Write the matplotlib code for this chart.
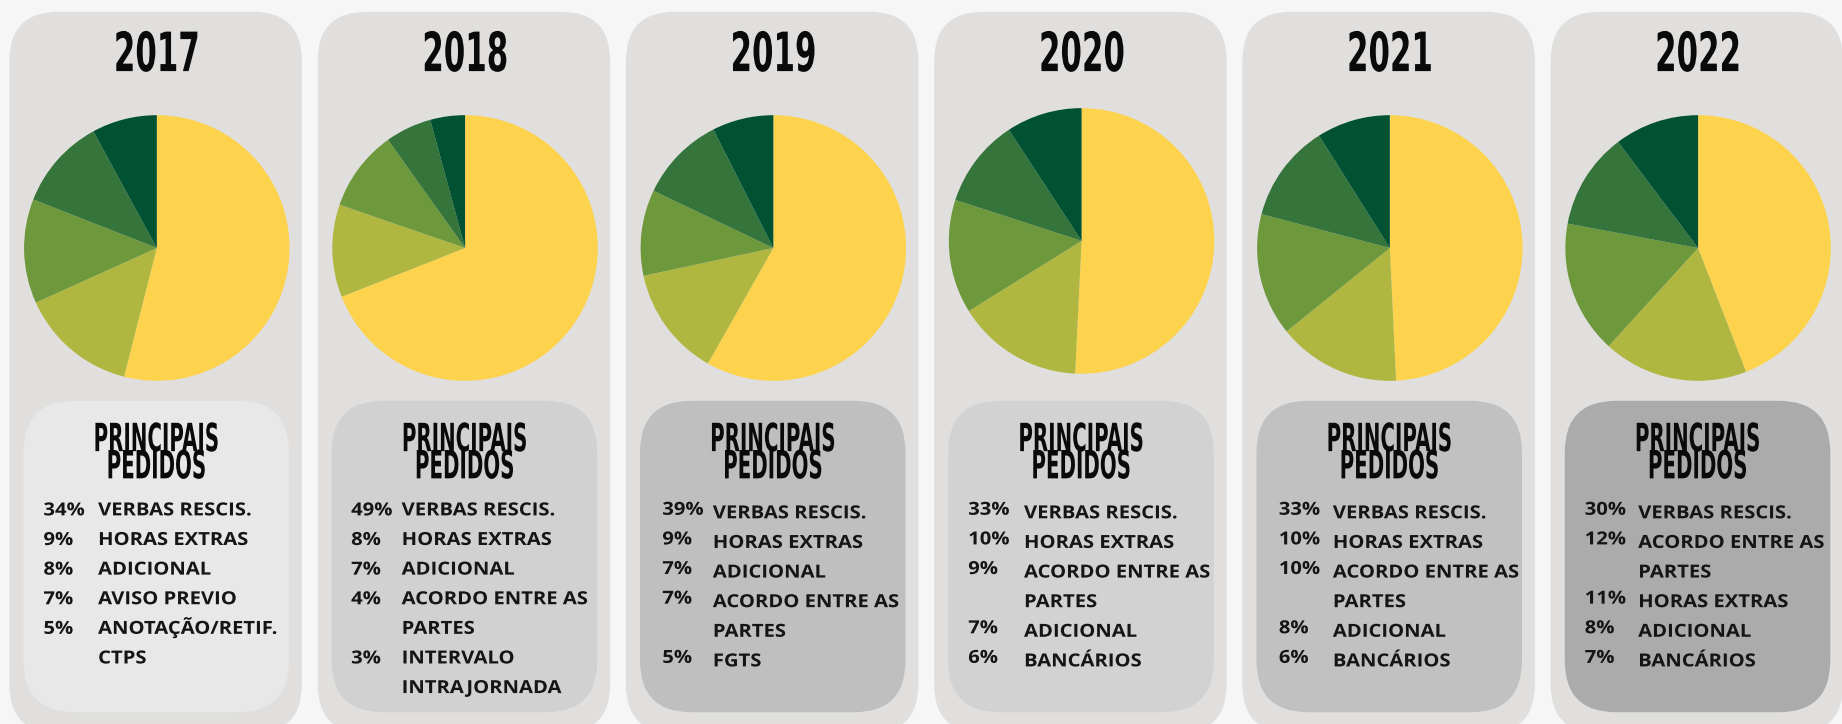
import matplotlib
matplotlib.use("Agg")
import matplotlib.pyplot as plt
from matplotlib.patches import FancyBboxPatch
from matplotlib.patheffects import AbstractPathEffect
from matplotlib.transforms import Affine2D

# dados (principais pedidos por ano)
years = ["2017", "2018", "2019", "2020", "2021", "2022"]

pcts = [
    [34, 9, 8, 7, 5],
    [49, 8, 7, 4, 3],
    [39, 9, 7, 7, 5],
    [33, 10, 9, 7, 6],
    [33, 10, 10, 8, 6],
    [30, 12, 11, 8, 7],
]

labels = [
    ["VERBAS RESCIS.", "HORAS EXTRAS", "ADICIONAL", "AVISO PREVIO", "ANOTAÇÃO/RETIF.\nCTPS"],
    ["VERBAS RESCIS.", "HORAS EXTRAS", "ADICIONAL", "ACORDO ENTRE AS\nPARTES", "INTERVALO\nINTRAJORNADA"],
    ["VERBAS RESCIS.", "HORAS EXTRAS", "ADICIONAL", "ACORDO ENTRE AS\nPARTES", "FGTS"],
    ["VERBAS RESCIS.", "HORAS EXTRAS", "ACORDO ENTRE AS\nPARTES", "ADICIONAL", "BANCÁRIOS"],
    ["VERBAS RESCIS.", "HORAS EXTRAS", "ACORDO ENTRE AS\nPARTES", "ADICIONAL", "BANCÁRIOS"],
    ["VERBAS RESCIS.", "ACORDO ENTRE AS\nPARTES", "HORAS EXTRAS", "ADICIONAL", "BANCÁRIOS"],
]

pie_colors = ["#FDD34E", "#B0B740", "#6E983C", "#35743A", "#005232"]
box_colors = ["#E8E8E8", "#D1D1D1", "#BFBFBF", "#D2D2D2", "#C1C1C1", "#ABABAB"]
panel_color = "#E0DFDD"
bg_color = "#F6F6F6"
txt_color = "#151515"

# layout (pixels da imagem 1568x616, y de cima para baixo)
W, H = 1568, 616
pitch = 262.4
pct_dx = [29, 28.5, 31, 29, 31, 29]
lab_dx = [75.5, 71.5, 74, 76.5, 77, 74.5]
first_base = [438.5, 438.5, 441, 441, 441, 441]
pct_shift = [0, 0, -3, -3, -3, -3]
step = 25.2


def Y(y):
    return H - y


class Squeeze(AbstractPathEffect):
    # muda a largura do texto (efeito de fonte condensada / larga)
    def __init__(self, sx, keep_left=False):
        super().__init__()
        self.sx = sx
        self.keep_left = keep_left

    def draw_path(self, renderer, gc, tpath, affine, rgbFace=None):
        if self.keep_left:
            cx = 0
        else:
            ext = tpath.get_extents()
            cx = (ext.x0 + ext.x1) / 2
        t = Affine2D().translate(-cx, 0).scale(self.sx, 1).translate(cx, 0) + affine
        renderer.draw_path(gc, tpath, t, rgbFace)


body_font = ["Open Sans", "DejaVu Sans"]
wide = [Squeeze(1.12, keep_left=True)]

fig = plt.figure(figsize=(18.42, 7.24), dpi=100, facecolor=bg_color)
ax = fig.add_axes([0, 0, 1, 1])
ax.set_facecolor(bg_color)

for i, year in enumerate(years):
    left = 8 + pitch * i

    panel = FancyBboxPatch((left, Y(624)), 249, 614,
                           boxstyle="round,pad=0,rounding_size=42",
                           fc=panel_color, ec="none", zorder=1)
    ax.add_patch(panel)

    box = FancyBboxPatch((left + 12, Y(606)), 226, 265,
                         boxstyle="round,pad=0,rounding_size=44",
                         fc=box_colors[i], ec="none", zorder=2)
    ax.add_patch(box)

    cx = left + 125.5
    cy = 205 if year == "2020" else 211
    ax.pie(pcts[i], colors=pie_colors, startangle=90, counterclock=False,
           center=(cx, Y(cy)), radius=113,
           wedgeprops=dict(linewidth=0, zorder=3))

    ax.text(cx, Y(60.5), year, ha="center", va="baseline", fontsize=39,
            fontweight="bold", family="DejaVu Sans", color="#0a0a0a",
            path_effects=[Squeeze(0.57)], zorder=4)

    bx = left + 12 + 113
    ax.text(bx, Y(407), "PRINCIPAIS\nPEDIDOS", ha="center", va="baseline",
            multialignment="center", linespacing=0.64, fontsize=28,
            fontweight="bold", family="DejaVu Sans", color="#0a0a0a",
            path_effects=[Squeeze(0.51)], zorder=4)

    line = 0
    for p, lab in zip(pcts[i], labels[i]):
        yb = first_base[i] + step * line
        ax.text(left + pct_dx[i], Y(yb + pct_shift[i]), f"{p}%", ha="left",
                va="baseline", fontsize=13, fontweight="bold",
                family=body_font, color=txt_color, path_effects=wide,
                zorder=4)
        for part in lab.split("\n"):
            yb = first_base[i] + step * line
            ax.text(left + lab_dx[i], Y(yb), part, ha="left", va="baseline",
                    fontsize=13, fontweight="bold", family=body_font,
                    color=txt_color, path_effects=wide, zorder=4)
            line += 1

ax.set_xlim(0, W)
ax.set_ylim(0, H)
ax.set_aspect("auto")
ax.axis("off")

fig.savefig("out.png", dpi=100, facecolor=bg_color)
